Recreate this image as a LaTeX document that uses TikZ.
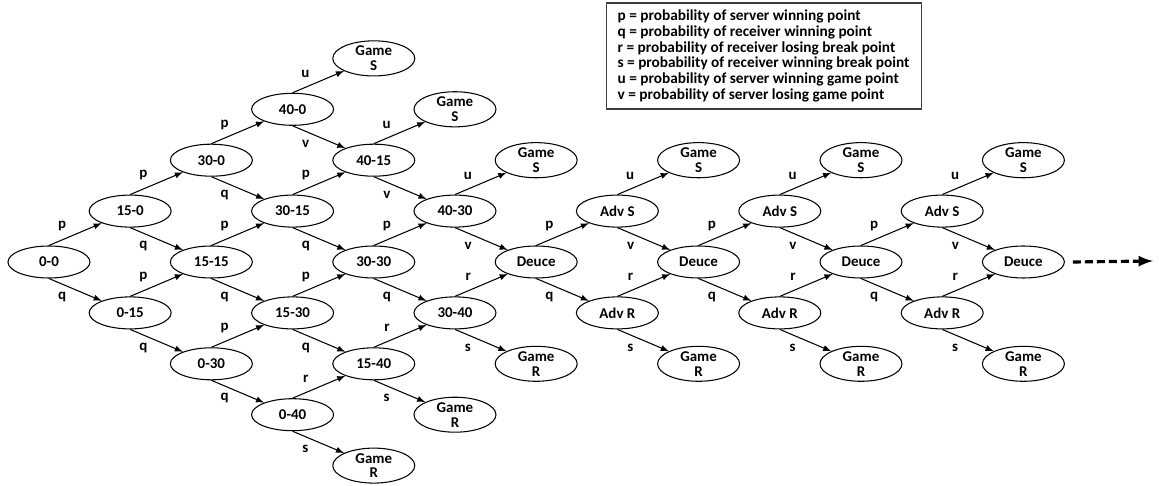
\documentclass[tikz,border=0pt]{standalone}
\usepackage{fontspec}
\setmainfont{Carlito}
\usetikzlibrary{shapes,arrows,positioning}

\begin{document}
\begin{tikzpicture}[
    x=1.624cm, y=1.018cm,
    % Style definitions
    score/.style={ellipse, draw, line width=0.6pt, minimum width=1.64cm, minimum height=0.64cm, inner sep=0pt, align=center, font=\fontsize{8.5}{8.5}\selectfont\bfseries},
    arrow/.style={->, >=latex, line width=0.6pt},
    uplab/.style={pos=0.25, yshift=0.27cm, inner sep=0pt, font=\fontsize{8.5}{9}\selectfont\bfseries},
    dnlab/.style={pos=0.25, yshift=-0.25cm, inner sep=0pt, font=\fontsize{8.5}{9}\selectfont\bfseries},
    contarrow/.style={->, >=latex, line width=1.8pt, dash pattern=on 0.16cm off 0.08cm}
]
\useasboundingbox (-0.603,-4.40) rectangle (13.67,5.147);

% Legend
\node[draw=black!75, line width=0.6pt, align=left, minimum width=6.3cm, minimum height=2.12cm, inner sep=0.1cm, font=\fontsize{8.7}{9}\selectfont\bfseries] (legend) at (8.80, 4.047) {p = probability of server winning point\\
q = probability of receiver winning point\\
r = probability of receiver losing break point\\
s = probability of receiver winning break point\\
u = probability of server winning game point\\
v = probability of server losing game point};

% Regular game
\node[score] (s00) at (0, 0) {0-0};
\node[score] (s150) at (1, 1) {15-0};
\node[score] (s015) at (1, -1) {0-15};
\node[score] (s300) at (2, 2) {30-0};
\node[score] (s1515) at (2, 0) {15-15};
\node[score] (s030) at (2, -2) {0-30};
\node[score] (s400) at (3, 3) {40-0};
\node[score] (s3015) at (3, 1) {30-15};
\node[score] (s1530) at (3, -1) {15-30};
\node[score] (s040) at (3, -3) {0-40};
\node[score] (gs1) at (4, 4) {Game\\S};
\node[score] (s4015) at (4, 2) {40-15};
\node[score] (s3030) at (4, 0) {30-30};
\node[score] (s1540) at (4, -2) {15-40};
\node[score] (gr1) at (4, -4) {Game\\R};
\node[score] (gs2) at (5, 3) {Game\\S};
\node[score] (s4030) at (5, 1) {40-30};
\node[score] (s3040) at (5, -1) {30-40};
\node[score] (gr2) at (5, -3) {Game\\R};
\node[score] (gs3) at (6, 2) {Game\\S};
\node[score] (deuce1) at (6, 0) {Deuce};
\node[score] (gr3) at (6, -2) {Game\\R};

% Deuce loops
\node[score] (advs1) at (7, 1) {Adv S};
\node[score] (advr1) at (7, -1) {Adv R};
\node[score] (gs4) at (8, 2) {Game\\S};
\node[score] (deuce2) at (8, 0) {Deuce};
\node[score] (gr4) at (8, -2) {Game\\R};
\node[score] (advs2) at (9, 1) {Adv S};
\node[score] (advr2) at (9, -1) {Adv R};
\node[score] (gs5) at (10, 2) {Game\\S};
\node[score] (deuce3) at (10, 0) {Deuce};
\node[score] (gr5) at (10, -2) {Game\\R};
\node[score] (advs3) at (11, 1) {Adv S};
\node[score] (advr3) at (11, -1) {Adv R};
\node[score] (gs6) at (12, 2) {Game\\S};
\node[score] (deuce4) at (12, 0) {Deuce};
\node[score] (gr6) at (12, -2) {Game\\R};
\coordinate (cont) at (13.596, 0.02);

% Connections
\draw[arrow] (s00.north) -- node[uplab] {p} (s150);
\draw[arrow] (s00.south) -- node[dnlab] {q} (s015);
\draw[arrow] (s150.north) -- node[uplab] {p} (s300);
\draw[arrow] (s150.south) -- node[dnlab] {q} (s1515);
\draw[arrow] (s015.north) -- node[uplab] {p} (s1515);
\draw[arrow] (s015.south) -- node[dnlab] {q} (s030);
\draw[arrow] (s300.north) -- node[uplab] {p} (s400);
\draw[arrow] (s300.south) -- node[dnlab] {q} (s3015);
\draw[arrow] (s1515.north) -- node[uplab] {p} (s3015);
\draw[arrow] (s1515.south) -- node[dnlab] {q} (s1530);
\draw[arrow] (s030.north) -- node[uplab] {p} (s1530);
\draw[arrow] (s030.south) -- node[dnlab] {q} (s040);
\draw[arrow] (s400.north) -- node[uplab] {u} (gs1);
\draw[arrow] (s400.south) -- node[dnlab] {v} (s4015);
\draw[arrow] (s3015.north) -- node[uplab] {p} (s4015);
\draw[arrow] (s3015.south) -- node[dnlab] {q} (s3030);
\draw[arrow] (s1530.north) -- node[uplab] {p} (s3030);
\draw[arrow] (s1530.south) -- node[dnlab] {q} (s1540);
\draw[arrow] (s040.north) -- node[uplab] {r} (s1540);
\draw[arrow] (s040.south) -- node[dnlab] {s} (gr1);
\draw[arrow] (s4015.north) -- node[uplab] {u} (gs2);
\draw[arrow] (s4015.south) -- node[dnlab] {v} (s4030);
\draw[arrow] (s3030.north) -- node[uplab] {p} (s4030);
\draw[arrow] (s3030.south) -- node[dnlab] {q} (s3040);
\draw[arrow] (s1540.north) -- node[uplab] {r} (s3040);
\draw[arrow] (s1540.south) -- node[dnlab] {s} (gr2);
\draw[arrow] (s4030.north) -- node[uplab] {u} (gs3);
\draw[arrow] (s4030.south) -- node[dnlab] {v} (deuce1);
\draw[arrow] (s3040.north) -- node[uplab] {r} (deuce1);
\draw[arrow] (s3040.south) -- node[dnlab] {s} (gr3);

\draw[arrow] (deuce1.north) -- node[uplab] {p} (advs1);
\draw[arrow] (deuce1.south) -- node[dnlab] {q} (advr1);
\draw[arrow] (advs1.north) -- node[uplab] {u} (gs4);
\draw[arrow] (advs1.south) -- node[dnlab] {v} (deuce2);
\draw[arrow] (advr1.north) -- node[uplab] {r} (deuce2);
\draw[arrow] (advr1.south) -- node[dnlab] {s} (gr4);
\draw[arrow] (deuce2.north) -- node[uplab] {p} (advs2);
\draw[arrow] (deuce2.south) -- node[dnlab] {q} (advr2);
\draw[arrow] (advs2.north) -- node[uplab] {u} (gs5);
\draw[arrow] (advs2.south) -- node[dnlab] {v} (deuce3);
\draw[arrow] (advr2.north) -- node[uplab] {r} (deuce3);
\draw[arrow] (advr2.south) -- node[dnlab] {s} (gr5);
\draw[arrow] (deuce3.north) -- node[uplab] {p} (advs3);
\draw[arrow] (deuce3.south) -- node[dnlab] {q} (advr3);
\draw[arrow] (advs3.north) -- node[uplab] {u} (gs6);
\draw[arrow] (advs3.south) -- node[dnlab] {v} (deuce4);
\draw[arrow] (advr3.north) -- node[uplab] {r} (deuce4);
\draw[arrow] (advr3.south) -- node[dnlab] {s} (gr6);

% Continues
\draw[contarrow] ([xshift=0.16cm]deuce4.east) -- (cont);

\end{tikzpicture}
\end{document}
